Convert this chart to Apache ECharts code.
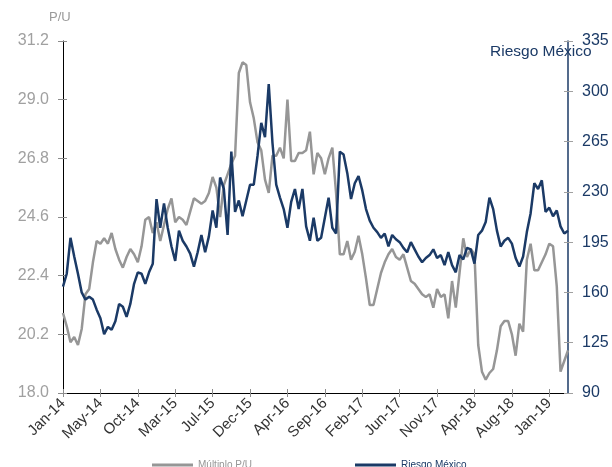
<!DOCTYPE html>
<html>
<head>
<meta charset="utf-8">
<script src="https://cdn.jsdelivr.net/npm/echarts@6/dist/echarts.min.js"></script>
<style>
  html, body { margin: 0; padding: 0; background: #fff; }
  #chart { width: 612px; height: 467px; }
</style>
</head>
<body>
<div id="chart"></div>
<script>
// tick labels, one every 10 points
const tickLabels = ["Jan-14", "May-14", "Oct-14", "Mar-15", "Jul-15", "Dec-15", "Apr-16",
  "Sep-16", "Feb-17", "Jun-17", "Nov-17", "Apr-18", "Aug-18", "Jan-19"];

// Múltiplo P/U (left axis)
const multiploPU = [
  21.0, 20.5, 19.9, 20.1, 19.8, 20.4, 21.7, 21.9, 22.9, 23.7,
  23.6, 23.8, 23.6, 24.0, 23.4, 23.0, 22.7, 23.1, 23.4, 23.2,
  22.9, 23.5, 24.5, 24.6, 24.0, 24.4, 23.7, 24.3, 24.9, 25.3,
  24.4, 24.6, 24.5, 24.3, 24.8, 25.3, 25.2, 25.1, 25.2, 25.5,
  26.1, 25.7, 24.6, 25.8, 26.2, 26.6, 26.9, 30.0, 30.4, 30.3,
  28.9, 28.3, 27.4, 27.1, 26.0, 25.5, 26.9, 26.9, 27.2, 26.8,
  29.0, 26.7, 26.7, 27.0, 27.0, 27.1, 27.8, 26.2, 27.0, 26.8,
  26.2, 26.8, 27.2, 25.5, 23.2, 23.2, 23.7, 23.0, 23.3, 23.9,
  23.2, 22.3, 21.3, 21.3, 21.9, 22.5, 22.9, 23.2, 23.4, 23.1,
  23.0, 23.2, 22.7, 22.2, 22.1, 21.9, 21.7, 21.6, 21.7, 21.2,
  21.9, 21.6, 21.7, 20.8, 22.2, 21.2, 22.5, 23.8, 23.1, 23.4,
  23.2, 19.8, 18.8, 18.5, 18.75, 18.9, 19.6, 20.5, 20.7, 20.7,
  20.2, 19.4, 20.6, 20.3, 23.0, 23.6, 22.6, 22.6, 22.9, 23.2,
  23.6, 23.5, 22.0, 18.8, 19.2, 19.6
];

// Riesgo México (right axis)
const riesgoMexico = [
  164, 173, 198, 185, 173, 160, 155, 157, 155, 148,
  142, 131, 136, 134, 140, 152, 150, 143, 152, 166,
  174, 173, 166, 174, 180, 225, 205, 222, 205, 192,
  182, 203, 196, 192, 187, 178, 188, 200, 188, 199,
  217, 205, 240, 232, 200, 258, 216, 224, 213, 224,
  235, 235, 255, 278, 268, 305, 264, 235, 226, 218,
  205, 223, 232, 218, 232, 206, 196, 212, 196, 198,
  212, 226, 205, 201, 258, 256, 243, 225, 236, 241,
  231, 218, 210, 205, 202, 198, 201, 192, 200, 197,
  195, 191, 188, 195, 190, 185, 181, 184, 186, 190,
  184, 186, 179, 188, 179, 174, 186, 183, 191, 190,
  180, 200, 203, 209, 226, 218, 203, 192, 196, 198,
  194, 184, 178, 185, 202, 215, 236, 232, 238, 216,
  219, 213, 217, 206, 201, 203
];

const GRAY = "#969696";
const NAVY = "#1b3a66";
const TICK = "#8c8c8c";
const FONT = "Liberation Sans, Arial, sans-serif";
const categories = multiploPU.map((_, i) => String(i));

const chart = echarts.init(document.getElementById("chart"));
const option = {
  animation: false,
  grid: { left: 63, right: 44, top: 41, bottom: 74 },
  graphic: [
    { type: "text", left: 49, top: 11, style: { text: "P/U", fill: "#9a9a9a", font: "13px " + FONT } },
    { type: "text", left: 490, top: 44, style: { text: "Riesgo México", fill: NAVY, font: "15.5px " + FONT } }
  ],
  legend: [
    {
      left: 147, top: 455, itemWidth: 41, itemHeight: 3, icon: "rect",
      data: [{ name: "Múltiplo P/U", textStyle: { color: GRAY } }],
      textStyle: { fontSize: 10, fontFamily: FONT }
    },
    {
      left: 350, top: 455, itemWidth: 41, itemHeight: 3, icon: "rect",
      data: [{ name: "Riesgo México", textStyle: { color: NAVY } }],
      textStyle: { fontSize: 10, fontFamily: FONT }
    }
  ],
  xAxis: [
    {
      type: "category",
      boundaryGap: false,
      data: categories,
      axisLine: { lineStyle: { color: "#000", width: 1 } },
      axisTick: { interval: 9, length: 4, lineStyle: { color: TICK } },
      axisLabel: {
        interval: 9,
        rotate: 45,
        margin: 8,
        color: "#333",
        fontSize: 15,
        fontFamily: FONT,
        formatter: (v, idx) => tickLabels[idx / 10] || ""
      },
      splitLine: { show: false }
    },
    {
      // inner half of the crossing ticks
      type: "category",
      position: "bottom",
      boundaryGap: false,
      data: categories,
      axisLine: { show: false },
      axisTick: { interval: 9, inside: true, length: 4, lineStyle: { color: TICK } },
      axisLabel: { show: false },
      splitLine: { show: false }
    }
  ],
  yAxis: [
    {
      type: "value",
      min: 18,
      max: 31.2,
      interval: 2.2,
      axisLine: { show: true, lineStyle: { color: "#000", width: 1 } },
      axisTick: { show: true, length: 5, lineStyle: { color: TICK } },
      axisLabel: { color: "#a0a0a0", fontSize: 16, fontFamily: FONT, margin: 14, formatter: v => v.toFixed(1) },
      splitLine: { show: false }
    },
    {
      type: "value",
      position: "right",
      min: 90,
      max: 335,
      interval: 35,
      axisLine: { show: true, lineStyle: { color: NAVY, width: 1.5 } },
      axisTick: { show: true, length: 5, lineStyle: { color: "#a0a0a0" } },
      axisLabel: { color: NAVY, fontSize: 16, fontFamily: FONT, margin: 14 },
      splitLine: { show: false }
    },
    {
      type: "value",
      position: "left",
      min: 18,
      max: 31.2,
      interval: 2.2,
      axisLine: { show: false },
      axisTick: { show: true, inside: true, length: 4, lineStyle: { color: TICK } },
      axisLabel: { show: false },
      splitLine: { show: false }
    },
    {
      type: "value",
      position: "right",
      offset: 0,
      min: 90,
      max: 335,
      interval: 35,
      axisLine: { show: false },
      axisTick: { show: true, inside: true, length: 4, lineStyle: { color: "#a0a0a0" } },
      axisLabel: { show: false },
      splitLine: { show: false }
    }
  ],
  series: [
    {
      name: "Múltiplo P/U",
      type: "line",
      yAxisIndex: 0,
      data: multiploPU,
      showSymbol: false,
      symbol: "none",
      lineStyle: { color: GRAY, width: 2.5 },
      itemStyle: { color: GRAY }
    },
    {
      name: "Riesgo México",
      type: "line",
      yAxisIndex: 1,
      data: riesgoMexico,
      showSymbol: false,
      symbol: "none",
      lineStyle: { color: NAVY, width: 2.5 },
      itemStyle: { color: NAVY }
    }
  ]
};
chart.setOption(option);
</script>
</body>
</html>
